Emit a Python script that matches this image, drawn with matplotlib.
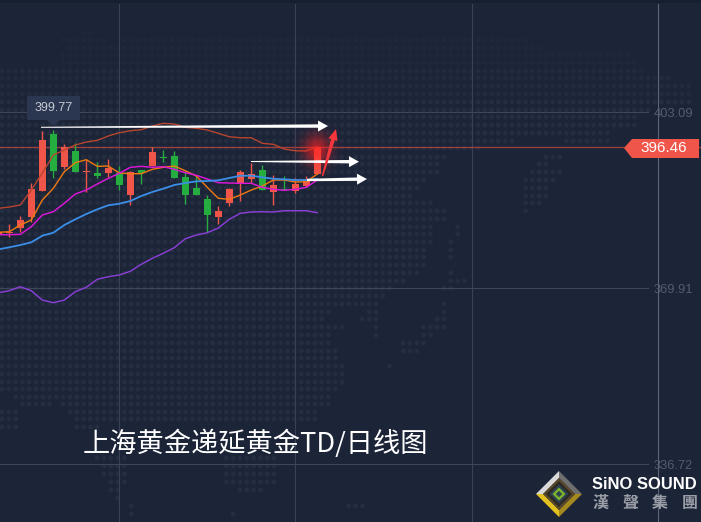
"""
Shanghai gold T+D daily candlestick chart, dark terminal style.
"""

import numpy as np
import matplotlib
matplotlib.use('Agg')
import matplotlib.pyplot as plt
from matplotlib.patches import Polygon, Rectangle, FancyBboxPatch

plt.rcParams['font.family'] = ['Noto Sans CJK SC', 'DejaVu Sans']

BG = '#1c2438'
RED = '#ef5548'
GREEN = '#25ad3f'

opens = [379.90, 380.22, 381.28, 383.29, 388.20, 398.94, 392.72, 395.74, 391.83, 391.59,
         391.59, 391.59, 387.44, 392.15, 392.91, 394.61, 394.79, 390.83, 388.76, 386.69,
         383.29, 385.93, 389.57, 390.46, 392.15, 388.01, 388.48, 388.20, 389.14, 391.40]
highs = [380.47, 381.92, 383.48, 389.65, 399.51, 399.77, 397.06, 397.25, 394.17, 393.66,
         394.17, 392.85, 391.97, 392.15, 396.49, 395.93, 395.74, 391.97, 391.21, 387.44,
         385.37, 388.76, 392.15, 393.47, 393.10, 391.21, 391.02, 390.65, 391.02, 396.68]
lows = [379.90, 379.58, 380.52, 382.41, 388.20, 390.70, 392.34, 391.83, 388.06, 390.70,
        390.78, 388.38, 385.56, 389.52, 392.91, 393.66, 390.65, 385.74, 387.44, 380.47,
        381.97, 385.37, 386.31, 389.70, 388.38, 385.56, 388.38, 387.82, 388.95, 391.40]
closes = [380.47, 380.52, 382.73, 388.57, 397.81, 392.02, 396.49, 391.83, 391.97, 391.02,
          392.53, 389.33, 391.78, 391.53, 395.55, 394.47, 390.65, 387.44, 387.44, 383.67,
          384.42, 388.57, 391.78, 391.40, 388.38, 389.33, 388.38, 389.52, 390.46, 396.46]

ma_orange = [380.41, 380.52, 381.78, 382.73, 386.50, 388.70, 391.83, 393.53, 394.10, 392.85,
             392.91, 391.59, 391.46, 391.46, 392.29, 392.66, 392.91, 392.02, 391.02, 388.89,
             386.82, 386.63, 387.44, 388.38, 389.14, 390.27, 390.27, 389.89, 389.95, 391.40]
ma_magenta = [379.96, 379.96, 380.03, 381.46, 383.67, 384.29, 385.88, 387.63, 388.38, 389.52,
              390.59, 391.53, 392.66, 392.85, 392.66, 392.78, 392.29, 391.65, 391.16, 390.46,
              389.76, 389.70, 389.65, 389.65, 388.89, 388.52, 388.33, 388.52, 388.89, 390.27]
ma_blue = [377.20, 377.58, 378.01, 378.52, 379.77, 380.33, 381.78, 382.86, 383.86, 384.74,
           385.50, 385.80, 386.31, 387.25, 388.01, 388.63, 389.33, 389.70, 390.02, 390.08,
           390.21, 390.65, 391.08, 391.08, 390.78, 390.51, 390.40, 390.27, 390.27, 390.46]
band_upper = [384.93, 385.18, 385.56, 388.38, 391.59, 394.98, 395.93, 396.87, 397.43, 397.75,
              398.57, 399.19, 399.56, 399.75, 400.45, 400.96, 400.83, 400.21, 400.02, 399.70,
              399.07, 398.43, 398.24, 398.24, 397.19, 397.00, 396.11, 395.79, 395.74, 396.55]
band_lower = [369.02, 369.40, 370.15, 369.40, 367.64, 367.14, 367.64, 369.21, 370.04, 371.55,
              372.04, 372.36, 373.06, 374.38, 375.51, 376.45, 377.51, 379.20, 379.90, 380.33,
              381.22, 382.86, 383.99, 384.24, 384.29, 384.24, 384.48, 384.48, 384.48, 384.10]

grid_prices = [403.09, 369.91, 336.72]
last_price = 396.46
peak_price = 399.77
title_text = '上海黄金递延黄金TD/日线图'

# decoration only: dotted world map as (row y, x from, x to) in pixels
map_spans = [
    (33, 78, 92), (40, 60, 110), (40, 120, 530), (48, 65, 545), (55, 60, 630), (63, 60, 640),
    (71, 0, 645), (78, 0, 670), (86, 0, 690), (94, 0, 690), (102, 0, 690), (110, 0, 650),
    (117, 0, 640), (125, 0, 640), (133, 0, 612), (141, 0, 518), (141, 560, 610), (148, 0, 483),
    (157, 0, 450), (157, 500, 505), (157, 540, 560), (164, 0, 440), (164, 535, 550),
    (172, 0, 438), (172, 530, 560), (180, 0, 430), (180, 523, 553), (188, 0, 418),
    (188, 523, 550), (196, 0, 415), (196, 523, 550), (203, 0, 437), (203, 523, 540),
    (211, 0, 450), (211, 523, 532), (219, 0, 450), (219, 528, 532), (227, 0, 437),
    (227, 455, 460), (234, 0, 437), (234, 455, 460), (242, 0, 437), (242, 448, 452),
    (250, 0, 430), (250, 448, 452), (257, 0, 430), (257, 448, 452), (265, 0, 425),
    (273, 0, 420), (273, 448, 452), (281, 0, 410), (281, 448, 465), (288, 0, 390),
    (288, 441, 457), (296, 0, 385), (304, 0, 378), (304, 441, 445), (312, 0, 330),
    (312, 366, 382), (312, 441, 445), (319, 0, 325), (319, 362, 378), (319, 435, 445),
    (327, 0, 343), (327, 375, 382), (327, 421, 445), (335, 0, 332), (335, 375, 382),
    (335, 421, 437), (343, 0, 332), (343, 403, 430), (351, 0, 337), (351, 403, 417),
    (358, 0, 337), (366, 0, 344), (366, 388, 392), (374, 0, 344), (382, 0, 344), (389, 0, 337),
    (397, 15, 330), (404, 20, 50), (404, 60, 330), (412, 0, 20), (412, 65, 320), (419, 0, 20),
    (419, 72, 320), (427, 0, 20), (427, 72, 100), (458, 95, 130), (458, 220, 280),
    (466, 100, 130), (466, 222, 280), (474, 100, 125), (474, 225, 280), (482, 105, 125),
    (482, 225, 280), (490, 110, 120), (490, 240, 265), (498, 112, 120), (498, 228, 232),
    (506, 128, 135), (506, 345, 365), (514, 130, 135), (514, 232, 236),
]


def px_axes(fig):
    """Overlay axes measured in image pixels, used for decoration."""
    ax = fig.add_axes([0, 0, 1, 1], facecolor='none')
    ax.set_xlim(0, 701)
    ax.set_ylim(522, 0)
    ax.axis('off')
    return ax


fig = plt.figure(figsize=(7.01, 5.22), dpi=100, facecolor=BG)

# background map dots, fading out towards the top of the picture
bg_ax = px_axes(fig)
bg_ax.add_patch(Rectangle((0, 0), 701, 3, color='#171e30', lw=0))
dot_x, dot_y, dot_c = [], [], []
for row_y, x0, x1 in map_spans:
    xs = np.arange(2, 700, 6.8)
    xs = xs[(xs >= x0) & (xs <= x1)]
    dot_x.extend(xs)
    dot_y.extend([row_y] * len(xs))
    col = '#1f273b' if row_y < 70 else '#222a3e' if row_y < 100 else '#252d41'
    dot_c.extend([col] * len(xs))
bg_ax.scatter(dot_x, dot_y, s=12, c=dot_c, linewidths=0)
for gx, col in [(119, '#3a4154'), (295, '#3a4154'), (471.5, '#3a4154'), (658, '#5f6578')]:
    bg_ax.plot([gx, gx], [4, 522], color=col, lw=0.8)

# price chart: index on x, price on y
ax = fig.add_axes([0, 0, 1, 1], facecolor='none')
ax.set_xlim(1.7 / 11, 702.7 / 11)
ax.set_ylim(325.79, 424.21)
ax.axis('off')

idx = np.arange(len(closes))
for price in grid_prices:
    ax.plot([ax.get_xlim()[0], 59.1], [price, price], color='#3f4659', lw=0.8, zorder=1)
    ax.text(59.55, price - 0.3, f'{price:.2f}', color='#555c6e', fontsize=9.3,
            ha='left', va='center', family='Liberation Sans', zorder=2)
ax.plot(ax.get_xlim(), [last_price, last_price], color='#a33f3c', lw=0.9, zorder=2)

# candles
for i in idx:
    color = RED if closes[i] >= opens[i] else GREEN
    ax.plot([i, i], [lows[i], highs[i]], color=color, lw=1.0, zorder=3, solid_capstyle='butt')
    lo, hi = sorted((opens[i], closes[i]))
    ax.add_patch(Rectangle((i - 0.32, lo), 0.64, max(hi - lo, 0.2), facecolor=color,
                           edgecolor='none', zorder=3))

# moving averages and bands
ax.plot(idx, band_upper, color='#b8452f', lw=1.0, zorder=4)
ax.plot(idx, ma_orange, color='#f07a10', lw=1.0, zorder=4)
ax.plot(idx, ma_magenta, color='#dc18d8', lw=1.05, zorder=4)
ax.plot(idx, ma_blue, color='#3b8fe8', lw=1.3, zorder=4)
ax.plot(idx, band_lower, color='#8a3fd6', lw=1.05, zorder=4)

# overlay: annotations, label, logo
top = px_axes(fig)

# red glow round the last candle
glow_y, glow_x = np.mgrid[115:190:151j, 280:355:151j]
glow = np.exp(-(((glow_x - 317) / 13.0) ** 2 + ((glow_y - 150) / 15.0) ** 2))
rgba = np.zeros(glow.shape + (4,))
rgba[..., 0] = 1.0
rgba[..., 1] = 0.13
rgba[..., 2] = 0.13
rgba[..., 3] = glow * 0.7
top.imshow(rgba, extent=(280, 355, 190, 115), aspect='auto', zorder=2, interpolation='bilinear')
top.set_xlim(0, 701)
top.set_ylim(522, 0)


def arrow(x0, y0, x1, y1, color, head_len=10.0, head_w=11.0, tail=1.0, neck=3.4):
    """Tapered arrow: thin tail widening towards the head."""
    ux, uy = (x1 - x0), (y1 - y0)
    n = np.hypot(ux, uy)
    ux, uy = ux / n, uy / n
    nx, ny = -uy, ux
    bx, by = x1 - ux * head_len, y1 - uy * head_len
    pts = [(x0 + nx * tail / 2, y0 + ny * tail / 2),
           (bx + nx * neck / 2, by + ny * neck / 2),
           (bx + nx * head_w / 2, by + ny * head_w / 2),
           (x1, y1),
           (bx - nx * head_w / 2, by - ny * head_w / 2),
           (bx - nx * neck / 2, by - ny * neck / 2),
           (x0 - nx * tail / 2, y0 - ny * tail / 2)]
    top.add_patch(Polygon(pts, facecolor=color, edgecolor='none', zorder=5))


arrow(41, 127.3, 328, 126, 'white')
arrow(251, 161.5, 359, 161.7, 'white')
arrow(307, 180, 367, 179, 'white', tail=2.4)
arrow(322.5, 176, 336, 129, '#f5363b', head_len=11.0, head_w=9.5, tail=1.5, neck=4.0)

# peak label
top.add_patch(FancyBboxPatch((27, 96), 53, 24, boxstyle='round,pad=0,rounding_size=1.5',
                             facecolor='#2b3650', edgecolor='none', zorder=6))
top.add_patch(Polygon([(47, 120), (60, 120), (53.5, 126)], facecolor='#2b3650',
                      edgecolor='none', zorder=6))
top.text(53.5, 108, f'{peak_price:.2f}', color='#c5c9d2', fontsize=9, ha='center', va='center',
         family='Liberation Sans', zorder=7)

# last price tag
top.add_patch(Polygon([(624, 148), (632, 139), (699, 139), (699, 158), (632, 158)],
                      facecolor=RED, edgecolor='none', zorder=6))
top.text(663.5, 148.5, f'{last_price:.2f}', color='white', fontsize=11, ha='center', va='center',
         family='Liberation Sans', zorder=7)

top.text(82.5, 444, title_text, color='white', fontsize=19.6, ha='left', va='center', zorder=7)

# logo diamond
cx, cy = 559, 494
R1, R2, R3, R4, R5, R6 = 23, 16, 13, 9.5, 6.5, 3.2


def diamond(r, color):
    top.add_patch(Polygon([(cx - r, cy), (cx, cy - r), (cx + r, cy), (cx, cy + r)],
                          facecolor=color, edgecolor='none', zorder=6))


for sx, sy, col in [(-1, -1, '#d9d9d9'), (1, -1, '#6f6f6f'), (-1, 1, '#e3c11e'), (1, 1, '#a48a1e')]:
    top.add_patch(Polygon([(cx + sx * R1, cy), (cx, cy + sy * R1), (cx, cy + sy * R2),
                           (cx + sx * R2, cy)], facecolor=col, edgecolor='none', zorder=6))
diamond(R2, '#5a4a2a')
diamond(R3, '#2d2a26')
diamond(R4, '#2b4154')
diamond(R5, '#7db52a')
diamond(R6, '#2b4154')

top.text(592, 484.5, 'SiNO SOUND', color='white', fontsize=11.9, fontweight='bold', ha='left',
         va='center', family='Liberation Sans', zorder=7)
for ch, x_pos in zip('漢聲集團', [600.5, 630, 660, 689.5]):
    top.text(x_pos, 503, ch, color='#9a9ea6', fontsize=11.5, fontweight='bold', ha='center',
             va='center', zorder=7)

fig.savefig('out.png', dpi=100, facecolor=BG)
plt.close(fig)
